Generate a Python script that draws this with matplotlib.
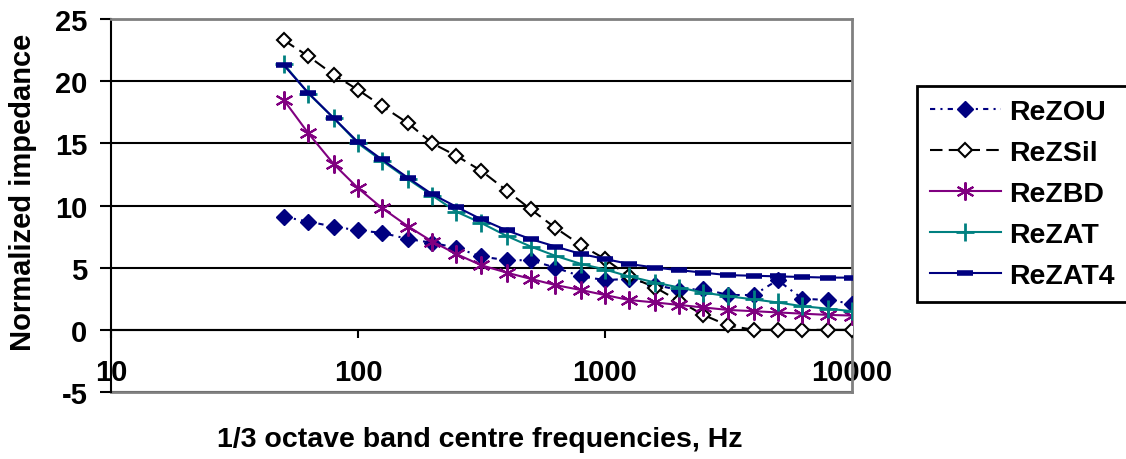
import matplotlib
matplotlib.use('Agg')
import matplotlib.pyplot as plt
from matplotlib.ticker import FixedLocator, FixedFormatter, NullLocator

plt.rcParams['font.family'] = ['Liberation Sans', 'DejaVu Sans']
plt.rcParams['font.weight'] = 'bold'
plt.rcParams['axes.unicode_minus'] = False

# 1/3 octave band centre frequencies (Hz)
freqs = [50, 63, 80, 100, 125, 160, 200, 250, 315, 400, 500, 630, 800,
         1000, 1250, 1600, 2000, 2500, 3150, 4000, 5000, 6300, 8000, 10000]

re_zou = [9.1, 8.7, 8.3, 8.0, 7.8, 7.3, 7.0, 6.6, 5.9, 5.6, 5.6, 5.0, 4.3,
          4.0, 4.1, 3.6, 3.2, 3.3, 2.8, 2.8, 4.0, 2.5, 2.4, 2.1]
re_zsil = [23.3, 22.0, 20.5, 19.3, 18.0, 16.6, 15.0, 14.0, 12.8, 11.2, 9.7, 8.2, 6.8,
           5.7, 4.3, 3.4, 2.3, 1.2, 0.35, 0.0, 0.0, 0.0, 0.0, 0.0]
re_zbd = [18.5, 15.8, 13.3, 11.4, 9.8, 8.3, 7.1, 6.1, 5.2, 4.6, 4.1, 3.6, 3.2,
          2.8, 2.4, 2.2, 2.0, 1.8, 1.6, 1.5, 1.4, 1.3, 1.2, 1.15]
re_zat = [21.4, 19.0, 17.0, 15.0, 13.6, 12.1, 10.8, 9.5, 8.6, 7.55, 6.7, 5.95, 5.3,
          4.85, 4.3, 3.8, 3.4, 3.0, 2.7, 2.45, 2.2, 1.9, 1.7, 1.5]
re_zat4 = [21.3, 19.05, 17.0, 15.1, 13.7, 12.2, 10.9, 9.9, 8.9, 8.0, 7.3, 6.7, 6.1,
           5.7, 5.3, 5.0, 4.8, 4.6, 4.4, 4.35, 4.3, 4.25, 4.2, 4.2]

x_ticks = [10, 100, 1000, 10000]
x_tick_labels = ['10', '100', '1000', '10000']
y_ticks = [-5, 0, 5, 10, 15, 20, 25]

navy = '#000080'
purple = '#800080'
teal = '#008080'
gray = '#808080'

fig = plt.figure(figsize=(11.26, 4.6), dpi=100)
ax = fig.add_axes([111 / 1126, 67 / 460, 741 / 1126, 373 / 460])

ax.plot(freqs, re_zou, color=navy, lw=1.5, linestyle=(0, (2.5, 2.5, 1, 2.5)),
        marker='D', ms=8, mfc=navy, mec=navy, label='ReZOU', zorder=3)
ax.plot(freqs, re_zsil, color='black', lw=1.5, linestyle=(0, (6, 3)),
        marker='D', ms=7.5, mfc='white', mec='black', mew=1.5, label='ReZSil', zorder=3)
ax.plot(freqs, re_zbd, color=purple, lw=1.5, marker=(6, 2, 0), ms=13,
        mec=purple, mew=1.5, label='ReZBD', zorder=3)
ax.plot(freqs, re_zat, color=teal, lw=1.5, marker='+', ms=13,
        mec=teal, mew=2, label='ReZAT', zorder=3)
ax.plot(freqs, re_zat4, color=navy, lw=1.5, marker='_', ms=12,
        mec=navy, mew=4, label='ReZAT4', zorder=3)

ax.set_xscale('log')
ax.set_xlim(10, 10000)
ax.set_ylim(-5, 25)

ax.xaxis.set_major_locator(FixedLocator(x_ticks))
ax.xaxis.set_major_formatter(FixedFormatter(x_tick_labels))
ax.xaxis.set_minor_locator(NullLocator())
ax.set_yticks(y_ticks)

ax.spines['left'].set_color('black')
ax.spines['left'].set_linewidth(1.5)
ax.spines['bottom'].set_position(('data', 0))
ax.spines['bottom'].set_color('black')
ax.spines['bottom'].set_linewidth(1.5)
for side in ['top', 'right']:
    ax.spines[side].set_color(gray)
    ax.spines[side].set_linewidth(2)
ax.axhline(-5, color=gray, lw=2, clip_on=False, zorder=1)

ax.yaxis.grid(True, color='black', lw=1.5)
ax.set_axisbelow(True)

ax.tick_params(axis='x', direction='out', length=6, width=1.5, pad=14, labelsize=21)
ax.tick_params(axis='y', direction='out', length=8, width=1.5, pad=9, labelsize=21)

fig.text(23 / 1126, 1 - 192 / 460, 'Normalized impedance', rotation=90,
         ha='center', va='center', fontsize=21, fontweight='bold')
fig.text(480 / 1126, 1 - 440 / 460, '1/3 octave band centre frequencies, Hz',
         ha='center', va='center', fontsize=20.5, fontweight='bold')

leg = ax.legend(loc='upper left', bbox_to_anchor=(917 / 1126, 1 - 87 / 460),
                bbox_transform=fig.transFigure, borderaxespad=0, fontsize=20.5,
                frameon=True, fancybox=False, edgecolor='black', framealpha=1,
                handlelength=2.5, handletextpad=0.3, labelspacing=0.53,
                borderpad=0.45, numpoints=1)
leg.get_frame().set_linewidth(2)

fig.savefig('out.png', dpi=100)
